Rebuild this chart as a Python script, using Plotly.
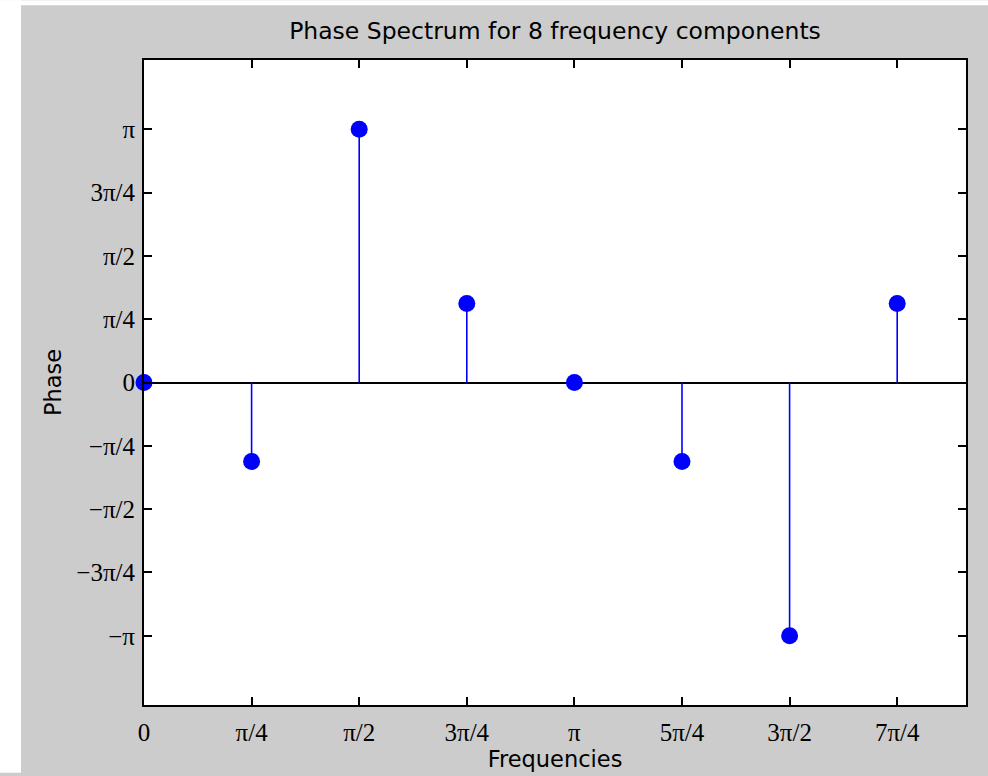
import numpy as np
import plotly.graph_objects as go

# Frequency bins (rad/sample) and phase of each component (rad)
freqs = [0, np.pi / 4, np.pi / 2, 3 * np.pi / 4, np.pi, 5 * np.pi / 4, 3 * np.pi / 2, 7 * np.pi / 4]
phases = [0.0, -0.98, np.pi, 0.98, 0.0, -0.98, -np.pi, 0.98]

x_tickvals = freqs
x_ticktext = ["0", "π/4", "π/2", "3π/4", "π", "5π/4", "3π/2", "7π/4"]
y_tickvals = [-np.pi, -3 * np.pi / 4, -np.pi / 2, -np.pi / 4, 0, np.pi / 4, np.pi / 2, 3 * np.pi / 4, np.pi]
y_ticktext = ["−π", "−3π/4", "−π/2", "−π/4", "0", "π/4", "π/2", "3π/4", "π"]

BLUE = "#0000ff"
GREY = "#cccccc"

# stem lines: vertical segments from 0 to each phase value
stem_x, stem_y = [], []
for f, p in zip(freqs, phases):
    stem_x += [f, f, None]
    stem_y += [0, p, None]

fig = go.Figure()
fig.add_trace(go.Scatter(x=stem_x, y=stem_y, mode="lines",
                         line=dict(color=BLUE, width=1.6), hoverinfo="skip",
                         showlegend=False, cliponaxis=False))
fig.add_trace(go.Scatter(x=freqs, y=phases, mode="markers",
                         marker=dict(color=BLUE, size=17, line=dict(width=0)),
                         showlegend=False, cliponaxis=False))

serif = dict(family="Liberation Serif", size=25, color="black")
sans = "DejaVu Sans"

axis_common = dict(
    showline=True, linecolor="black", linewidth=2, mirror="allticks",
    ticks="inside", ticklen=8, tickwidth=1.5, tickcolor="black",
    showgrid=False, tickfont=serif,
)

fig.update_xaxes(range=[0, 6], tickmode="array", tickvals=x_tickvals, ticktext=x_ticktext,
                 zeroline=False, ticklabelstandoff=4,
                 title=dict(text="Frequencies", font=dict(family=sans, size=22.5, color="black"), standoff=2),
                 **axis_common)
fig.update_yaxes(range=[-4, 4], tickmode="array", tickvals=y_tickvals, ticktext=y_ticktext,
                 zeroline=True, zerolinecolor="black", zerolinewidth=1.6, ticklabelstandoff=2,
                 title=dict(text="Phase", font=dict(family=sans, size=22.5, color="black"), standoff=8),
                 **axis_common)

# plot area spans x 144..966 px and y 60..708 px in the 988x776 page
L, R, T, B = 144, 966, 60, 708
W, H = 988, 776
pw, ph = R - L, B - T

def px(xp):
    return (xp - L) / pw

def py(yp):
    return (B - yp) / ph

fig.update_layout(
    width=W, height=H,
    margin=dict(l=L, r=W - R, t=T, b=H - B, pad=0),
    paper_bgcolor=GREY, plot_bgcolor="white",
    title=dict(text="Phase Spectrum for 8 frequency components",
               font=dict(family=sans, size=23.5, color="black"),
               x=0.5, xref="paper", y=(H - 31) / H, yref="container",
               xanchor="center", yanchor="middle"),
    shapes=[
        # grey fill along the bottom and right page edges
        dict(type="rect", xref="paper", yref="paper", x0=px(21), x1=px(W + 4), y0=py(H + 4), y1=py(760),
             fillcolor=GREY, line=dict(width=0), layer="below"),
        dict(type="rect", xref="paper", yref="paper", x0=px(975), x1=px(W + 4), y0=py(H + 4), y1=py(5),
             fillcolor=GREY, line=dict(width=0), layer="below"),
        # white strips at the left and top page edges
        dict(type="rect", xref="paper", yref="paper", x0=px(0), x1=px(21), y0=py(H), y1=py(0),
             fillcolor="white", line=dict(width=0), layer="above"),
        dict(type="rect", xref="paper", yref="paper", x0=px(0), x1=px(W), y0=py(5), y1=py(0),
             fillcolor="white", line=dict(width=0), layer="above"),
    ],
)

fig.write_html("out.html")
